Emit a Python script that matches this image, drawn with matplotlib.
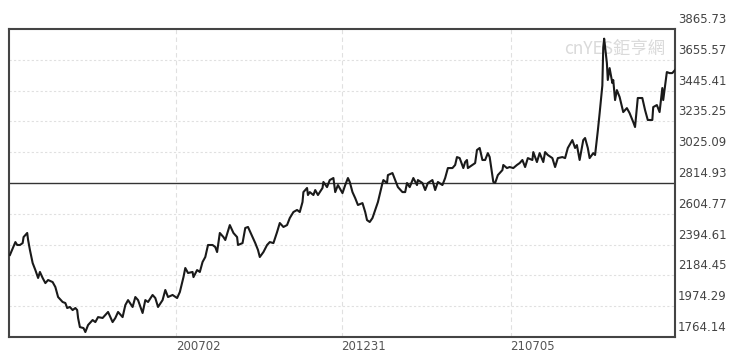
import matplotlib
matplotlib.use("Agg")
import matplotlib.pyplot as plt
import matplotlib.transforms as mtransforms

# days counted from 2020-01-01, index level
days = [
    0, 6, 8, 11, 14, 15, 19, 20, 22, 25, 28, 31, 33, 36, 39, 42, 47, 50, 53, 58,
    61, 63, 66, 69, 72, 74, 75, 77, 81, 83, 86, 91, 94, 97, 102, 105, 108, 113, 116, 119,
    124, 127, 130, 135, 138, 141, 146, 149, 152, 157, 160, 163, 168, 171, 174, 179, 184, 187, 191, 193,
    196, 201, 202, 206, 209, 212, 215, 218, 223, 226, 228, 231, 235, 237, 242, 246, 250, 251, 256, 259,
    262, 267, 270, 273, 275, 279, 283, 286, 290, 294, 297, 301, 305, 308, 312, 316, 319, 322, 323, 327,
    328, 330, 334, 336, 339, 344, 345, 349, 352, 356, 358, 361, 366, 369, 372, 374, 377, 380, 383, 388,
    391, 393, 396, 399, 402, 405, 410, 411, 415, 416, 421, 424, 427, 432, 435, 437, 440, 444, 448, 449,
    454, 457, 460, 465, 468, 471, 476, 479, 482, 487, 490, 492, 495, 499, 501, 503, 504, 509, 512, 514,
    517, 520, 523, 526, 528, 532, 534, 537, 542, 543, 547, 550, 554, 558, 561, 564, 567, 570, 575, 576,
    580, 583, 587, 589, 592, 597, 600, 603, 608, 611, 614, 619, 622, 624, 627, 631, 633, 636, 638, 642,
    644, 647, 649, 652, 653, 654, 657, 658, 660, 663, 664, 666, 668, 671, 675, 679, 682, 686, 688, 691,
    696, 699, 702, 707, 708, 712, 715, 718, 719, 723, 726, 729, 732,
]
values = [
    2324, 2412, 2392, 2392, 2405, 2446, 2474, 2426, 2358, 2269, 2221, 2167, 2208, 2167, 2132, 2153, 2139, 2105, 2037, 2003,
    1996, 1962, 1969, 1948, 1962, 1948, 1894, 1832, 1825, 1798, 1846, 1880, 1866, 1900, 1894, 1914, 1935, 1866, 1894, 1935,
    1900, 1982, 2016, 1969, 2037, 2016, 1928, 2016, 2003, 2051, 2030, 1969, 2016, 2085, 2037, 2051, 2030, 2071, 2173, 2235,
    2201, 2208, 2173, 2221, 2208, 2276, 2310, 2392, 2392, 2378, 2344, 2474, 2446, 2426, 2528, 2474, 2446, 2392, 2405, 2508,
    2515, 2446, 2405, 2358, 2310, 2344, 2392, 2412, 2405, 2480, 2542, 2515, 2528, 2576, 2617, 2631, 2617, 2685, 2753, 2781,
    2733, 2753, 2733, 2767, 2733, 2781, 2822, 2787, 2835, 2849, 2753, 2801, 2746, 2801, 2849, 2822, 2753, 2712, 2665, 2678,
    2617, 2562, 2549, 2576, 2631, 2685, 2815, 2835, 2815, 2869, 2883, 2835, 2787, 2753, 2753, 2815, 2787, 2849, 2801, 2835,
    2815, 2767, 2815, 2835, 2767, 2822, 2801, 2849, 2917, 2917, 2938, 2992, 2985, 2917, 2958, 2972, 2917, 2938, 2951, 3040,
    3054, 2972, 2972, 3019, 2992, 2822, 2815, 2869, 2903, 2938, 2917, 2924, 2917, 2938, 2951, 2972, 2924, 2985, 2972, 3026,
    2958, 3019, 2958, 3026, 3006, 2985, 2924, 2985, 2992, 2985, 3054, 3108, 3054, 3074, 2972, 3108, 3122, 3054, 2985, 3019,
    3006, 3170, 3290, 3480, 3740, 3800, 3633, 3518, 3599, 3497, 3518, 3381, 3449, 3402, 3299, 3326, 3292, 3231, 3197, 3395,
    3395, 3313, 3245, 3245, 3333, 3347, 3299, 3463, 3381, 3572, 3565, 3565, 3586,
]

y_ticks = [1764.14, 1974.29, 2184.45, 2394.61, 2604.77, 2814.93,
           3025.09, 3235.25, 3445.41, 3655.57, 3865.73]
x_tick_days = [183, 365, 551]
x_tick_labels = ["200702", "201231", "210705"]
ref_level = 2814.93

fig = plt.figure(figsize=(7.4, 3.57), dpi=100)
ax = fig.add_axes([0.0122, 0.056, 0.9, 0.8627])

ax.set_xlim(-1, 732)
ax.set_ylim(y_ticks[0], y_ticks[-1])

for v in y_ticks[1:-1]:
    if v != ref_level:
        ax.axhline(v, color="#e0e0e0", lw=0.8, ls=(0, (2, 2)), zorder=1)
for d in x_tick_days:
    ax.axvline(d, color="#e0e0e0", lw=0.8, ls=(0, (4, 3)), zorder=1)
ax.axhline(ref_level, color="#333333", lw=1.0, zorder=2)

ax.plot(days, values, color="#1a1a1a", lw=1.5, zorder=3)

ax.set_xticks([])
ax.set_yticks([])
for s in ax.spines.values():
    s.set_color("#444444")
    s.set_linewidth(1.5)

lab_tr = mtransforms.offset_copy(ax.get_yaxis_transform(), fig=fig, x=3, y=3, units="dots")
for v in y_ticks:
    ax.text(1.0, v, f"{v:.2f}", transform=lab_tr, ha="left", va="bottom",
            fontsize=8.5, color="#444444")

xt_tr = mtransforms.offset_copy(ax.get_xaxis_transform(), fig=fig, x=0, y=-3, units="dots")
for d, lab in zip(x_tick_days, x_tick_labels):
    ax.text(d, 0, lab, transform=xt_tr, ha="left", va="top", fontsize=8.5, color="#555555")

ax.text(0.985, 0.965, "cnYES鉅亨網", transform=ax.transAxes, ha="right", va="top",
        fontsize=12.5, color="#dadada", family=["Noto Sans CJK TC", "DejaVu Sans"], zorder=2)

fig.savefig("out.png", dpi=100)
